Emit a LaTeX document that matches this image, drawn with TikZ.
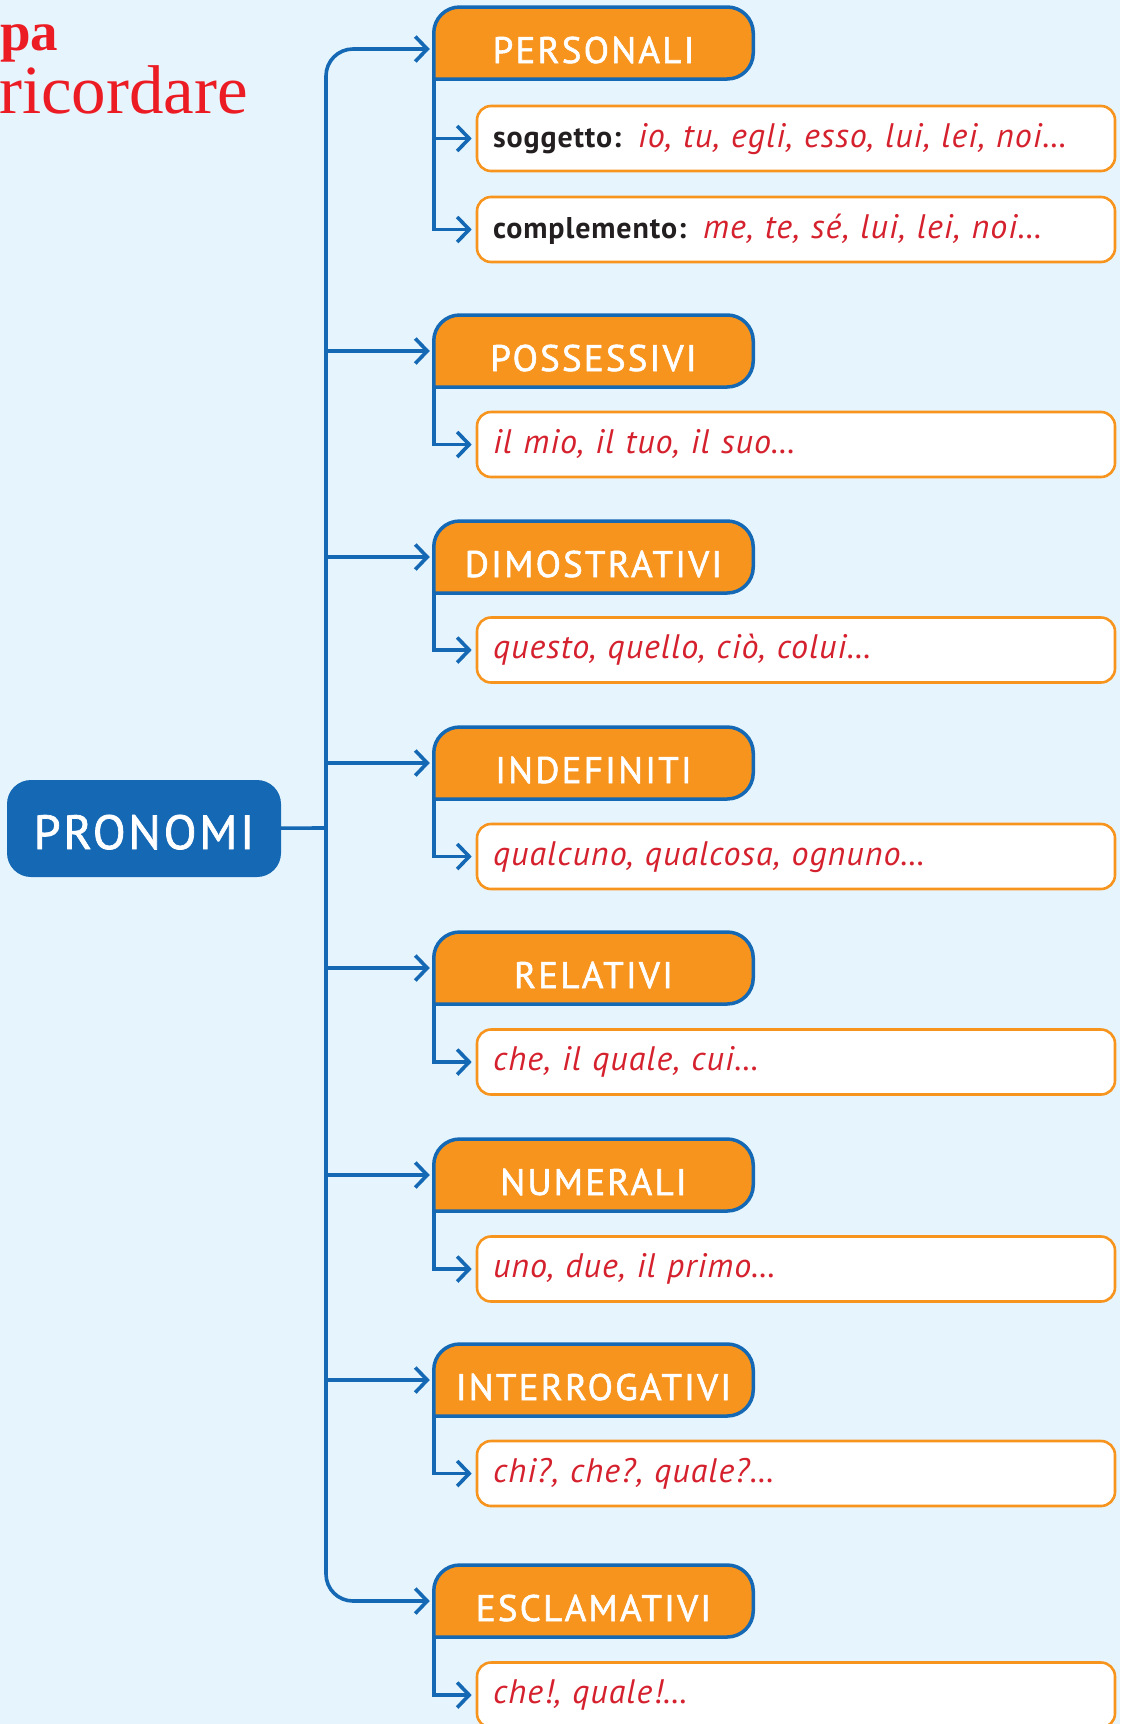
\documentclass[tikz,border=0pt]{standalone}
\usepackage{fontspec}
\setmainfont{PT Sans}
\newfontfamily\catfont{PT Sans}[LetterSpace=6,FakeBold=1.5]
\newfontfamily\itemfont{PT Sans}[LetterSpace=3]
\newfontfamily\headfont{Liberation Serif}
\usetikzlibrary{arrows.meta}
\pgfdeclarelayer{background}
\pgfsetlayers{background,main}

\definecolor{bgsky}{RGB}{230,245,253}
\definecolor{mapblue}{RGB}{20,104,180}
\definecolor{maporange}{RGB}{247,148,30}
\definecolor{itemred}{RGB}{213,33,45}
\definecolor{headred}{RGB}{236,28,36}
\definecolor{labelblack}{RGB}{35,31,32}

\newcommand{\voce}[1]{{\itemfont\upshape\bfseries\fontsize{30}{30}\selectfont\color{labelblack}#1}}

\begin{document}
\begin{tikzpicture}[x=1pt,y=-1pt]

    \tikzset{
      link/.style={draw=mapblue, line width=3.6pt},
      arr/.style={
        link,
        shorten >=4pt,
        -{Straight Barb[length=12pt,width=25pt]},
      },
      pron/.style={
        fill=mapblue, text=white, rounded corners=24pt,
        minimum width=274pt, minimum height=97pt,
        inner sep=0pt, text height=69pt, text depth=28pt,
        font=\catfont\fontsize{48}{48}\selectfont,
      },
      cat/.style={
        text=white, outer sep=0pt,
        minimum width=319.5pt, minimum height=72pt,
        inner sep=0pt, text height=56pt, text depth=16pt,
        font=\catfont\fontsize{37}{37}\selectfont,
      },
      catframe/.style={
        fill=maporange, draw=mapblue, line width=3.5pt,
        line cap=rect, rounded corners=26pt,
      },
      item/.style={
        fill=white, draw=maporange, line width=2.6pt, rounded corners=14pt,
        minimum width=638pt, minimum height=65pt,
        text width=606pt, align=left, inner xsep=16pt, inner ysep=0pt,
        text height=41pt, text depth=24pt, text=itemred,
        font=\itemfont\itshape\fontsize{34}{34}\selectfont,
      },
    }
    \useasboundingbox (0,0) rectangle (1120,1724);
    \clip (0,0) rectangle (1120,1724);

    % title
    \node[anchor=base west, inner sep=0pt, text=headred, font=\headfont\bfseries\fontsize{55}{55}\selectfont] (mappa) at (0,50) {pa};
    \node[anchor=base west, inner sep=0pt, text=headred, font=\headfont\fontsize{69}{69}\selectfont] (ricordare) at (-1,113) {ricordare};

    \node[pron] (pron) at (144,828.5) {PRONOMI};
    \coordinate (trunk) at (326,828);

    % categories
    \node[cat] (pers) at (593.5,43) {PERSONALI};
    \node[cat] (poss) at (593.5,351) {POSSESSIVI};
    \node[cat] (dim) at (593.5,557) {DIMOSTRATIVI};
    \node[cat] (indef) at (593.5,763) {INDEFINITI};
    \node[cat] (rel) at (593.5,968) {RELATIVI};
    \node[cat] (num) at (593.5,1175) {NUMERALI};
    \node[cat] (inter) at (593.5,1380) {INTERROGATIVI};
    \node[cat] (escl) at (593.5,1601) {ESCLAMATIVI};

    % examples
    \node[item] (sogg) at (796,138.5) {\voce{soggetto:}\enspace io, tu, egli, esso, lui, lei, noi…};
    \node[item] (compl) at (796,229.5) {\voce{complemento:}\enspace me, te, sé, lui, lei, noi…};
    \node[item] (possx) at (796,444.5) {il mio, il tuo, il suo…};
    \node[item] (dimx) at (796,650) {questo, quello, ciò, colui…};
    \node[item] (indefx) at (796,856.5) {qualcuno, qualcosa, ognuno…};
    \node[item] (relx) at (796,1062) {che, il quale, cui…};
    \node[item] (numx) at (796,1269) {uno, due, il primo…};
    \node[item] (interx) at (796,1473.5) {chi?, che?, quale?…};
    \node[item] (esclx) at (796,1695) {che!, quale!…};

    \begin{pgfonlayer}{background}
      \fill[bgsky] (0,0) rectangle (1120,1724);
      \draw[catframe] (pers.south west) -- (pers.north west) -- (pers.north east) -- (pers.south east) -- (pers.south west);
      \draw[catframe] (poss.south west) -- (poss.north west) -- (poss.north east) -- (poss.south east) -- (poss.south west);
      \draw[catframe] (dim.south west) -- (dim.north west) -- (dim.north east) -- (dim.south east) -- (dim.south west);
      \draw[catframe] (indef.south west) -- (indef.north west) -- (indef.north east) -- (indef.south east) -- (indef.south west);
      \draw[catframe] (rel.south west) -- (rel.north west) -- (rel.north east) -- (rel.south east) -- (rel.south west);
      \draw[catframe] (num.south west) -- (num.north west) -- (num.north east) -- (num.south east) -- (num.south west);
      \draw[catframe] (inter.south west) -- (inter.north west) -- (inter.north east) -- (inter.south east) -- (inter.south west);
      \draw[catframe] (escl.south west) -- (escl.north west) -- (escl.north east) -- (escl.south east) -- (escl.south west);
    \end{pgfonlayer}

    % trunk
    \draw[link] (pron) -- (trunk);
    \draw[arr, rounded corners=27pt] (trunk) |- ([yshift=-6pt]pers.west);
    \draw[arr] (trunk |- poss.west) -- (poss.west);
    \draw[arr] (trunk |- dim.west) -- (dim.west);
    \draw[arr] (trunk |- indef.west) -- (indef.west);
    \draw[arr] (trunk |- rel.west) -- (rel.west);
    \draw[arr] (trunk |- num.west) -- (num.west);
    \draw[arr] (trunk |- inter.west) -- (inter.west);
    \draw[arr, rounded corners=27pt] (trunk) |- (escl.west);

    % branches
    \draw[arr] (pers.south west) |- (sogg.west);
    \draw[arr] (pers.south west) |- (compl.west);
    \draw[arr] (poss.south west) |- (possx.west);
    \draw[arr] (dim.south west) |- (dimx.west);
    \draw[arr] (indef.south west) |- (indefx.west);
    \draw[arr] (rel.south west) |- (relx.west);
    \draw[arr] (num.south west) |- (numx.west);
    \draw[arr] (inter.south west) |- (interx.west);
    \draw[arr] (escl.south west) |- (esclx.west);

\end{tikzpicture}
\end{document}
